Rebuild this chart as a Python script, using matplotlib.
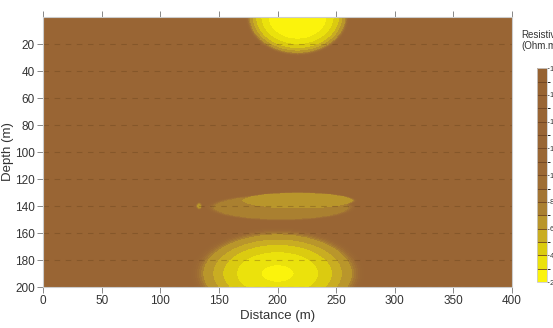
import numpy as np
import matplotlib
matplotlib.use("Agg")
import matplotlib.pyplot as plt
from matplotlib.colors import ListedColormap, BoundaryNorm

# resistivity levels (Ohm.m) and band colours
levels = np.arange(2, 19, 1)
band_colors = [
    "#fbf30c", "#ebe20c", "#dbcb10", "#c9ad22", "#b9962b", "#aa8030",
    "#a37533", "#9f6e33", "#9c6934", "#9a6734", "#996634", "#996534",
    "#996534", "#996534", "#986432", "#966231",
]
background = 15.0

# anomalies: centre distance, centre depth, half width, half height (m)
anom_x = [217, 200, 217, 203, 133]
anom_z = [0, 190, 136, 141, 140]
anom_ax = [46, 78, 53, 68, 4]
anom_az = [30, 36, 7, 11, 4]
# radial profile of each anomaly (normalised radius -> resistivity)
anom_r = [
    [0, 0.55, 0.68, 0.78, 0.9, 1.0],
    [0, 0.18, 0.45, 0.6, 0.82, 1.0],
    [0, 0.9, 1.0],
    [0, 0.85, 1.0],
    [0, 0.6, 1.0],
]
anom_v = [
    [2.2, 3.0, 4.0, 5.0, 7.0, background],
    [2.4, 3.0, 4.0, 5.0, 7.0, background],
    [6.3, 6.9, background],
    [7.4, 7.9, background],
    [6.5, 6.9, background],
]

x_ticks = np.arange(0, 401, 50)
y_ticks = np.arange(20, 201, 20)
cb_ticks = np.arange(2, 19, 2)

dist = np.linspace(0, 400, 801)
depth = np.linspace(0, 200, 401)
X, Z = np.meshgrid(dist, depth)
field = np.full(X.shape, background)
for xc, zc, ax_, az_, rk, vk in zip(anom_x, anom_z, anom_ax, anom_az, anom_r, anom_v):
    r = np.sqrt(((X - xc) / ax_) ** 2 + ((Z - zc) / az_) ** 2)
    field = np.minimum(field, np.interp(r, rk, vk))

plt.rcParams["font.family"] = ["Liberation Sans Narrow", "Liberation Sans", "DejaVu Sans"]

fig = plt.figure(figsize=(5.53, 3.28), dpi=100)
ax = fig.add_axes([0.078, 0.125, 0.848, 0.823])

cmap = ListedColormap(band_colors)
norm = BoundaryNorm(levels, cmap.N)
cf = ax.contourf(X, Z, field, levels=levels, cmap=cmap, norm=norm)

ax.set_xlim(0, 400)
ax.set_ylim(200, 0)
ax.set_xticks(x_ticks)
ax.set_yticks(y_ticks)
ax.tick_params(labelsize=8.5, colors="#333333", direction="out", length=4,
               width=0.7, top=True, color="#888888", pad=2)
ax.grid(axis="y", color="#5a3816", alpha=0.3, linestyle=(0, (5, 5)), lw=0.8)
for s in ax.spines.values():
    s.set_color("#cccccc")
    s.set_linewidth(0.8)

ax.set_xlabel("Distance (m)", fontsize=9.5, color="#333333", labelpad=2)
ax.set_ylabel("Depth (m)", fontsize=9.5, color="#333333", labelpad=1)

cax = fig.add_axes([0.971, 0.140, 0.018, 0.652])
cb = fig.colorbar(cf, cax=cax, ticks=cb_ticks, drawedges=True)
cb.outline.set_edgecolor("#cccccc")
cb.outline.set_linewidth(0.6)
cb.dividers.set_color("#6e4320")
cb.dividers.set_linewidth(0.6)
cb.ax.tick_params(labelsize=5.5, length=1.5, width=0.5, pad=0.5, colors="#333333")

fig.text(0.943, 0.876, "Resistivity\n(Ohm.m)", fontsize=7, color="#333333",
         ha="left", va="center", linespacing=1.1)

fig.savefig("out.png", dpi=100)
